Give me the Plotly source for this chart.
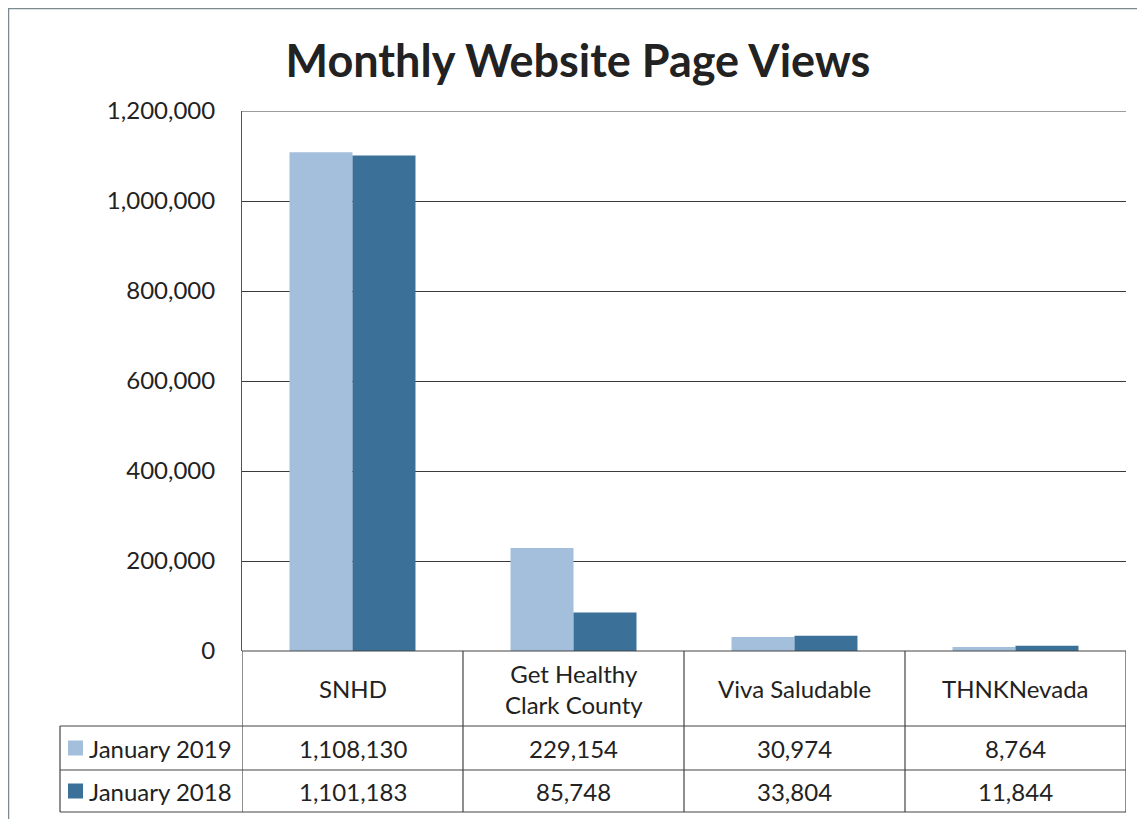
import plotly.graph_objects as go

categories = ["SNHD", "Get Healthy<br>Clark County", "Viva Saludable", "THNKNevada"]
series_names = ["January 2019", "January 2018"]
jan_2019 = [1108130, 229154, 30974, 8764]
jan_2018 = [1101183, 85748, 33804, 11844]
y_ticks = [0, 200000, 400000, 600000, 800000, 1000000, 1200000]

colors = ["#a3bfdc", "#3b7099"]
FONT = "Lato"
OFF = 8  # page body margin
W, H = 1145 - 2 * OFF, 827 - 2 * OFF
# plot area in screen pixels
L, R, T, B = 242, 1126, 111, 651

def py(p):  # screen pixel y -> paper y
    return (B - p) / (B - T)

def px(p):  # screen pixel x -> paper x
    return (p - L) / (R - L)

xi = list(range(len(categories)))
fig = go.Figure()
for name, vals, c in zip(series_names, [jan_2019, jan_2018], colors):
    fig.add_trace(go.Bar(x=xi, y=vals, name=name, marker=dict(color=c, line=dict(width=0)),
                         showlegend=False))

fig.update_layout(
    width=W, height=H,
    margin=dict(l=L - OFF, r=W - (R - OFF), t=T - OFF, b=H - (B - OFF), pad=0, autoexpand=False),
    paper_bgcolor="white", plot_bgcolor="white",
    barmode="group", bargap=0.43, bargroupgap=0,
    title=dict(text="<b>Monthly Website Page Views</b>", x=(578 - OFF) / W,
               xanchor="center", y=1 - (61 - OFF) / H, yanchor="middle",
               font=dict(family=FONT, size=45, color="#222")),
    font=dict(family=FONT, color="#222"),
    xaxis=dict(range=[-0.5, len(categories) - 0.5], showticklabels=False, showgrid=False,
               zeroline=False, showline=False, ticks=""),
    yaxis=dict(range=[0, 1200000], tickvals=y_ticks,
               ticktext=[f"{v:,}" for v in y_ticks],
               tickfont=dict(family=FONT, size=24, color="#222"),
               showgrid=True, gridcolor="#3a3a3a", gridwidth=1,
               zeroline=False, showline=True, linecolor="#555", linewidth=1,
               ticks="", ticklabelstandoff=21),
)

line = dict(color="#444", width=1.2)
# outer border
fig.add_shape(type="rect", xref="paper", yref="paper", x0=px(8.5), x1=px(1170), y0=py(8.5), y1=py(860),
              line=dict(color="#7a8a90", width=1.5))
# top gridline
fig.add_shape(type="line", xref="paper", yref="y", x0=0, x1=1, y0=y_ticks[-1], y1=y_ticks[-1],
              line=dict(color="#3a3a3a", width=1))
# table rows (screen pixels)
row_cat_bottom, row1_bottom, row2_bottom = 726, 770, 812
table_left = 60
fig.add_shape(type="line", xref="paper", yref="paper", x0=px(L), x1=px(R), y0=py(B), y1=py(B), line=line)
for yy in [row_cat_bottom, row1_bottom, row2_bottom]:
    fig.add_shape(type="line", xref="paper", yref="paper", x0=px(table_left), x1=px(R),
                  y0=py(yy), y1=py(yy), line=line)
fig.add_shape(type="line", xref="paper", yref="paper", x0=px(table_left), x1=px(table_left),
              y0=py(row_cat_bottom), y1=py(row2_bottom), line=line)
for k in range(len(categories) + 1):
    fig.add_shape(type="line", xref="x", yref="paper", x0=k - 0.5, x1=k - 0.5,
                  y0=py(B), y1=py(row2_bottom), line=line)

tfont = dict(family=FONT, size=24, color="#222")
for k, cat in enumerate(categories):
    fig.add_annotation(x=k, xref="x", y=py((B + row_cat_bottom) / 2), yref="paper", text=cat,
                       showarrow=False, font=tfont, xanchor="center", yanchor="middle")
    for vals, yy0, yy1 in [(jan_2019, row_cat_bottom, row1_bottom), (jan_2018, row1_bottom, row2_bottom)]:
        fig.add_annotation(x=k, xref="x", y=py((yy0 + yy1) / 2), yref="paper", text=f"{vals[k]:,}",
                           showarrow=False, font=tfont, xanchor="center", yanchor="middle")
for name, c, yy0, yy1 in [(series_names[0], colors[0], row_cat_bottom, row1_bottom),
                          (series_names[1], colors[1], row1_bottom, row2_bottom)]:
    ym = (yy0 + yy1) / 2
    fig.add_shape(type="rect", xref="paper", yref="paper", x0=px(68), x1=px(83),
                  y0=py(ym - 7.5), y1=py(ym + 7.5), fillcolor=c, line=dict(width=0))
    fig.add_annotation(x=px(87), xref="paper", y=py(ym), yref="paper", text=name, showarrow=False,
                       font=tfont, xanchor="left", yanchor="middle")

fig.write_html("out.html")
